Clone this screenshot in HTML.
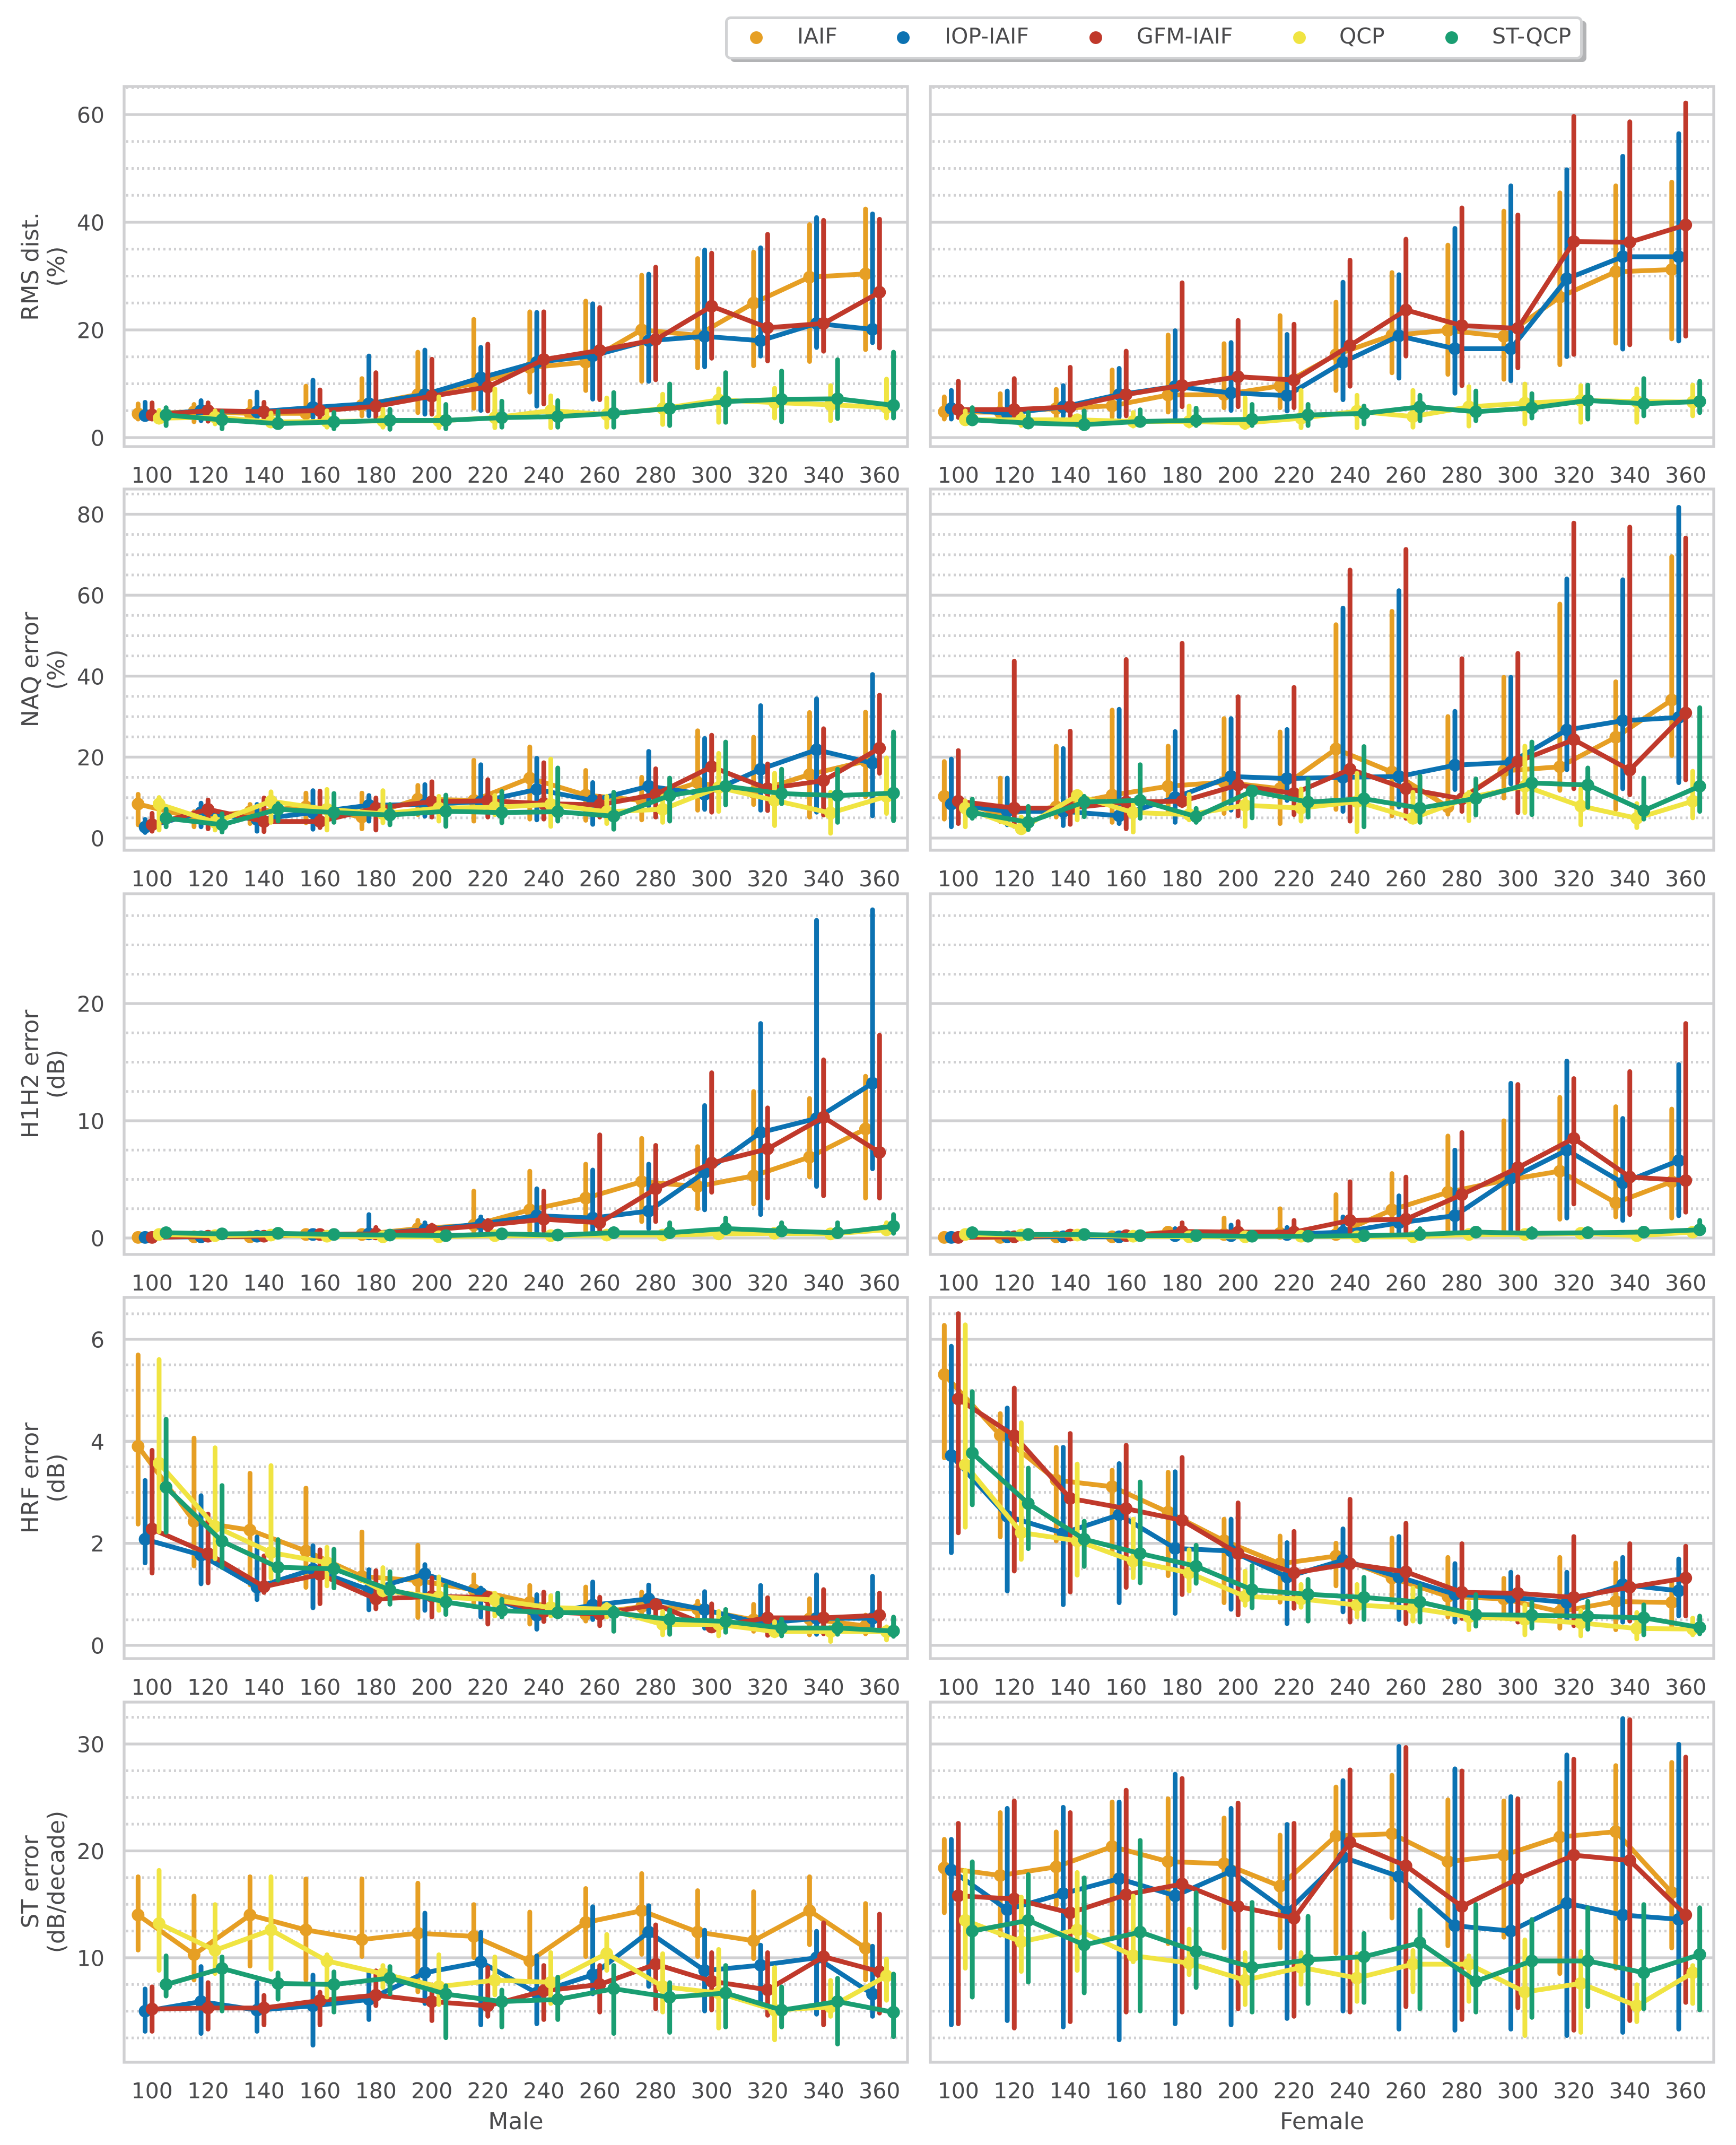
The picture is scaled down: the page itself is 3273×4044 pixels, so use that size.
<!DOCTYPE html>
<html lang="en">
<head>
<meta charset="utf-8">
<title>Glottal inverse filtering errors by F0</title>
<style>
html,body{margin:0;padding:0;background:#fff;}
svg{display:block;font-family:"DejaVu Sans","Liberation Sans",sans-serif;}
text{fill:#4a4a4c;}
</style>
</head>
<body>
<svg id="chart" xmlns="http://www.w3.org/2000/svg" width="3273" height="4044" viewBox="0 0 3273 4044">
  <rect x="0" y="0" width="3273" height="4044" fill="#ffffff"/>
  <g id="panels"></g>
  <g>
    <rect x="1377" y="39" width="1614" height="78" rx="8" fill="#b2b3b5"/>
    <rect x="1369.5" y="33.5" width="1612" height="76" rx="8" fill="#ffffff" stroke="#d1d2d4" stroke-width="5"/>
    <circle cx="1426" cy="71" r="12" fill="#e69f24"/>
    <text x="1503" y="82" font-size="41">IAIF</text>
    <circle cx="1703" cy="71" r="12" fill="#0c72b2"/>
    <text x="1781" y="82" font-size="41">IOP-IAIF</text>
    <circle cx="2066" cy="71" r="12" fill="#c0392b"/>
    <text x="2143" y="82" font-size="41">GFM-IAIF</text>
    <circle cx="2450" cy="71" r="12" fill="#f0e442"/>
    <text x="2525" y="82" font-size="41">QCP</text>
    <circle cx="2737" cy="71" r="12" fill="#1a9e72"/>
    <text x="2813" y="82" font-size="41">ST-QCP</text>
  </g>
  <g font-size="44" text-anchor="middle">
    <text transform="translate(72 502.5) rotate(-90)">RMS dist.</text>
    <text transform="translate(121 502.5) rotate(-90)">(%)</text>
    <text transform="translate(72 1262.5) rotate(-90)">NAQ error</text>
    <text transform="translate(121 1262.5) rotate(-90)">(%)</text>
    <text transform="translate(72 2025) rotate(-90)">H1H2 error</text>
    <text transform="translate(121 2025) rotate(-90)">(dB)</text>
    <text transform="translate(72 2786.5) rotate(-90)">HRF error</text>
    <text transform="translate(121 2786.5) rotate(-90)">(dB)</text>
    <text transform="translate(72 3548) rotate(-90)">ST error</text>
    <text transform="translate(121 3548) rotate(-90)">(dB/decade)</text>
  </g>
  <text x="972.5" y="4014" font-size="44" text-anchor="middle">Male</text>
  <text x="2492.5" y="4014" font-size="44" text-anchor="middle">Female</text>
</svg>
<script>
const categories = [100,120,140,160,180,200,220,240,260,280,300,320,340,360];
const seriesNames = ['iaif','iop-iaif','gfm-iaif','qcp','st-qcp'];
const seriesColors = ['#e69f24','#0c72b2','#c0392b','#f0e442','#1a9e72'];

const rmsTicks = [0,20,40,60];
const rmsMinorTicks = [5,10,15,25,30,35,45,50,55,65];
const naqTicks = [0,20,40,60,80];
const naqMinorTicks = [5,10,15,25,30,35,45,50,55,65,70,75,85];
const h1h2Ticks = [0,10,20];
const h1h2MinorTicks = [2.5,5,7.5,12.5,15,17.5,22.5,25,27.5];
const hrfTicks = [0,2,4,6];
const hrfMinorTicks = [0.5,1,1.5,2.5,3,3.5,4.5,5,5.5,6.5];
const stTicks = [10,20,30];
const stMinorTicks = [2.5,5,7.5,12.5,15,17.5,22.5,25,27.5,32.5];

/* RMS dist. male */
const rmsMaleIaifMean = [4.4,4.8,4.5,4.5,6,8,10,13,14,20,19,25,29.8,30.4];
const rmsMaleIaifLow = [3,2.5,3.6,3.3,3.6,4.2,5,8,8.3,10,12.5,12.9,13.7,15.9];
const rmsMaleIaifHigh = [6.7,6.6,7.2,10,11.4,16.3,22.4,23.8,25.8,30.6,33.7,34.9,40,42.9];
const rmsMaleIopMean = [4.1,5,4.8,5.6,6.3,8,11.1,14,15.2,18,18.8,18,21.2,20.1];
const rmsMaleIopLow = [3,2.7,2.4,3.3,3.6,3.9,4.6,5.4,6.7,10,12.7,14.7,16.3,17.2];
const rmsMaleIopHigh = [7,7.3,8.9,11.1,15.6,16.7,17.2,23.7,25.3,30.8,35.3,35.7,41.3,42];
const rmsMaleGfmMean = [4.2,5,4.8,5,5.8,7.7,9.4,14.5,16.2,18.2,24.4,20.4,21.2,27];
const rmsMaleGfmLow = [3,2.6,2.7,3,3.3,3.9,4.5,5.8,6.6,10.3,14.3,13.8,15.6,16.2];
const rmsMaleGfmHigh = [6.9,6.9,7,9.3,12.5,15,17.8,23.8,24.6,32.1,34.7,38.2,40.8,41];
const rmsMaleQcpMean = [3.6,3.8,2.9,3,3.1,3.1,3.7,5,4.3,5.4,7,6.5,6.1,5.6];
const rmsMaleQcpLow = [2.4,2.1,1.8,1.5,1.5,1.4,1.4,1.4,1.5,2,2.4,3.2,2.7,3.2];
const rmsMaleQcpHigh = [5.5,5.4,5,5.4,5.7,8,9.5,8.2,7.8,8.5,9.5,9.6,10.1,11.3];
const rmsMaleStMean = [4.2,3.3,2.6,2.9,3.2,3.2,3.7,3.9,4.5,5.4,6.7,7.1,7.2,6];
const rmsMaleStLow = [1.8,1.2,1.5,1.2,1.1,1.2,1.5,1.5,1.5,1.8,2.4,2.5,3.1,3.2];
const rmsMaleStHigh = [6,5.3,5.3,5.1,5.7,6.6,7.2,7.3,8.8,10.4,12.5,12.8,14.9,16.3];

/* RMS dist. female */
const rmsFemaleIaifMean = [4.8,4.7,5.4,5.9,7.9,8,9.6,15.4,19,19.9,18.8,26.1,30.8,31.2];
const rmsFemaleIaifLow = [3,3.6,3.4,3.4,4.3,5.1,5.1,8.3,11.6,11.3,10.4,13.1,17.1,17.9];
const rmsFemaleIaifHigh = [8,8.6,9.4,13,19.5,17.9,23.1,25.6,31.1,36.2,42.5,45.9,47.2,47.9];
const rmsFemaleIopMean = [5.4,4.5,5.7,8,9.5,8.3,7.8,14,18.9,16.5,16.5,29.5,33.6,33.6];
const rmsFemaleIopLow = [3,3.9,3.6,3.4,3.3,4.6,4.5,6.6,10.6,7.8,10.1,14.6,16,17.5];
const rmsFemaleIopHigh = [9.2,9.1,10.1,13.3,20.3,18.1,19.6,29.3,30.7,39.3,47.2,50.2,52.7,56.9];
const rmsFemaleGfmMean = [5.2,5.2,5.7,8,9.7,11.3,10.7,17.1,23.7,20.8,20.3,36.4,36.3,39.5];
const rmsFemaleGfmLow = [3.3,3.6,3.6,3.6,5.3,5.3,5.1,9.1,14.7,9.2,12.5,15,16.8,18.4];
const rmsFemaleGfmHigh = [10.9,11.4,13.5,16.5,29.2,22.2,21.5,33.4,37.3,43.1,41.8,60.1,59.1,62.6];
const rmsFemaleQcpMean = [3.3,3.3,3.3,3,3,2.7,3.6,4.9,3.9,5.7,6.4,6.9,6.7,6.6];
const rmsFemaleQcpLow = [2.4,1.8,1.8,1.7,1.7,1.4,1.4,1.4,1.5,1.7,2.1,2.4,2.4,3.6];
const rmsFemaleQcpHigh = [5.4,4.8,4.5,5.1,6.3,7.8,9.2,8.3,9.2,9.9,10.4,10.1,9.5,10.2];
const rmsFemaleStMean = [3.3,2.7,2.4,3,3.2,3.4,4.2,4.5,5.7,4.8,5.5,6.9,6.3,6.7];
const rmsFemaleStLow = [2.1,1.8,1.5,1.8,1.8,1.8,1.8,2.1,2.7,2.7,3.2,3,3.6,4.2];
const rmsFemaleStHigh = [6,5.1,5.4,5.6,5.9,6.6,6.6,6.3,8.3,9.1,8.6,10.2,11.4,10.9];

/* NAQ error male */
const naqMaleIaifMean = [8.4,5,6.5,7.7,5.2,9.6,9.3,14.8,10.6,9.3,13.7,11.3,15.7,19];
const naqMaleIaifLow = [2.7,2.2,3,3.2,1.7,5.2,3.6,4.1,3.8,3.9,6.3,7.7,4.6,9.6];
const naqMaleIaifHigh = [11.4,7.1,8.9,11.7,11.7,13.6,19.8,23.1,17.3,15.6,27.1,25.5,31.6,31.7];
const naqMaleIopMean = [2.7,6.3,4.6,6.3,8.1,8.3,9,12,9.3,12.8,10.8,17,21.8,18.5];
const naqMaleIopLow = [0.8,2.2,1.1,1.6,3.6,4.8,6,3.9,2.8,7.4,6.5,6.3,5.8,4.9];
const naqMaleIopHigh = [5.2,9.2,8.9,12.3,11.1,13.8,18.7,20.3,14.3,22,25.2,33.3,35,41];
const naqMaleGfmMean = [3.3,7.1,4.1,4.1,7.4,9,9.2,8.5,8.2,10.8,17.6,12.2,14.2,22.2];
const naqMaleGfmLow = [1.1,1.7,1,2,1.4,4.6,4.6,4.1,4.6,4.6,5.8,6.2,5.1,15.4];
const naqMaleGfmHigh = [6.7,10,10.5,12.2,10.5,14.5,15,19.2,10.9,17.7,26,18.9,27.6,35.9];
const naqMaleQcpMean = [8.4,3.9,9.1,7.1,6,7.4,7.6,8.3,6.5,7.1,12.5,9.3,6.2,10.3];
const naqMaleQcpLow = [1.4,1.4,3.3,1.4,3.2,3.6,5.2,2.3,3,3.3,6,2.5,0.6,5.5];
const naqMaleQcpHigh = [10.6,6,12,12.6,12.3,10.9,11.1,20.1,10.9,10.9,21.5,16.6,11.9,20.4];
const naqMaleStMean = [4.9,3.3,7.1,6.3,5.7,6.6,6.3,6.5,5.4,10.5,12.8,11,10.5,11.1];
const naqMaleStLow = [2.2,0.9,3.6,3.3,2.7,2.3,3.2,3.6,1.6,3.6,7.6,7.9,3.3,3.7];
const naqMaleStHigh = [7.7,6.6,9.1,11.6,8.9,11.2,12.1,17.9,11.9,15.4,24.3,17.6,17.6,26.8];

/* NAQ error female */
const naqFemaleIaifMean = [10.3,5.8,7.7,10.6,12.8,13.8,12.2,22,16.3,7.7,16.6,17.6,24.9,34.1];
const naqFemaleIaifLow = [4.1,3.5,4.6,3.3,5.8,5.5,3,6.5,4.9,5.3,9.3,11.2,6.5,19.8];
const naqFemaleIaifHigh = [19.5,15.4,23.3,32.2,23.3,30.1,26.8,53.3,56.6,30.6,40.3,58.4,39.2,70.1];
const naqFemaleIopMean = [8.4,6.6,6.6,5.5,10,15.2,14.7,15,15.2,18,18.7,26.7,29,29.8];
const naqFemaleIopLow = [2.2,2.7,2.5,3,3.3,6.3,8.7,6,7.1,11.4,12.8,16.3,11.6,13.1];
const naqFemaleIopHigh = [20.1,15.4,22.7,32.4,26.9,30.1,27.4,57.4,61.7,31.9,40.3,64.6,64.4,82.3];
const naqFemaleGfmMean = [9.1,7.4,7.4,8.9,9.1,13.1,11,17,12.2,9.7,18.9,24.3,16.8,30.9];
const naqFemaleGfmLow = [3,2.3,2.8,1.7,7.4,4.9,5.2,3.6,4.3,6,5.7,11.6,10.1,13.8];
const naqFemaleGfmHigh = [22.2,44.3,27,44.7,48.7,35.5,37.8,66.8,71.9,44.9,46.2,78.4,77.4,74.7];
const naqFemaleQcpMean = [7.4,2.3,10.5,6.3,5.8,8.1,7.4,9,4.9,10,12.8,7.9,4.9,9.1];
const naqFemaleQcpLow = [2.2,1.4,3.9,0.9,3.9,2.3,3.6,1,3.3,3.7,5.7,2.7,2,4.4];
const naqFemaleQcpHigh = [9.8,5.8,11.6,9,11.4,10.9,12.7,16.6,11.9,11.9,23.3,12.8,9.1,17.1];
const naqFemaleStMean = [6.3,3.9,8.9,9.3,5.3,11.6,8.9,9.7,7.4,9.8,13.6,13.1,6.8,12.8];
const naqFemaleStLow = [4.3,1.5,4.7,4.3,3.3,4.4,4.6,2.2,3.3,5.1,5.2,7,4.1,6];
const naqFemaleStHigh = [10.2,8.4,10.9,18.7,7.9,12.5,15.2,23.2,15.9,15.2,24.3,17.9,15.4,32.8];

/* H1H2 error male */
const h1h2MaleIaifMean = [0.05,0.1,0.1,0.3,0.3,0.8,1.1,2.4,3.4,4.8,4.4,5.3,6.9,9.3];
const h1h2MaleIaifLow = [0,0,0,0.1,0.1,0.3,0.3,0.4,0.4,1.2,2.3,2.7,5,3.2];
const h1h2MaleIaifHigh = [0.5,0.5,0.6,0.7,0.7,1.7,4.2,5.9,6.5,8.7,8,12.7,12.1,14];
const h1h2MaleIopMean = [0.05,0.1,0.15,0.3,0.35,0.7,1.2,1.9,1.7,2.3,5.6,9,10.2,13.2];
const h1h2MaleIopLow = [0,0,0,0.1,0.1,0.2,0.3,0.3,0.4,0.6,2.2,1.8,4.2,5.7];
const h1h2MaleIopHigh = [0.4,0.5,0.6,0.7,2.2,1.5,2,4.4,6,6.5,11.5,18.5,27.3,28.2];
const h1h2MaleGfmMean = [0.05,0.15,0.15,0.3,0.35,0.7,1.1,1.6,1.3,4.2,6.4,7.6,10.3,7.3];
const h1h2MaleGfmLow = [0,0,0,0.1,0.1,0.3,0.3,0.4,0.3,1.2,3.7,3.2,3.4,3.2];
const h1h2MaleGfmHigh = [0.3,0.5,0.5,0.7,1.1,1.3,1.7,4.2,9,8.1,14.3,11.3,15.4,17.5];
const h1h2MaleQcpMean = [0.3,0.2,0.25,0.15,0.1,0.1,0.2,0.2,0.25,0.25,0.35,0.4,0.35,0.7];
const h1h2MaleQcpLow = [0.1,0.05,0.05,0.05,0.05,0.05,0.05,0.05,0.05,0.05,0.1,0.1,0.1,0.2];
const h1h2MaleQcpHigh = [0.6,0.6,0.6,0.4,0.4,0.4,0.5,0.5,0.6,0.6,0.9,0.8,0.8,1.5];
const h1h2MaleStMean = [0.45,0.35,0.4,0.3,0.25,0.2,0.35,0.25,0.45,0.45,0.8,0.6,0.45,1];
const h1h2MaleStLow = [0.2,0.1,0.1,0.1,0.1,0.05,0.1,0.05,0.1,0.1,0.3,0.2,0.1,0.2];
const h1h2MaleStHigh = [0.8,0.6,0.7,0.5,0.5,0.5,0.7,0.6,1,1.5,1.9,1.5,1.5,2.2];

/* H1H2 error female */
const h1h2FemaleIaifMean = [0.05,0.05,0.1,0.1,0.5,0.3,0.4,0.3,2.4,3.9,4.9,5.7,3,4.8];
const h1h2FemaleIaifLow = [0,0,0,0,0,0.1,0.1,0.1,0.2,0.4,0.4,1.4,1.6,1.5];
const h1h2FemaleIaifHigh = [0.3,0.3,0.3,0.4,1,1.9,2.7,3.9,5.7,8.9,10.2,12.2,11.4,11.2];
const h1h2FemaleIopMean = [0.05,0.1,0.1,0.1,0.2,0.2,0.3,0.5,1.3,1.9,5.1,7.5,4.7,6.6];
const h1h2FemaleIopLow = [0,0,0,0,0,0,0.1,0.1,0.2,0.4,0.4,1.5,1.3,1.7];
const h1h2FemaleIopHigh = [0.3,0.3,0.3,0.4,1,1.3,1.1,2,3.8,7.7,13.4,15.3,10.4,15];
const h1h2FemaleGfmMean = [0.05,0.1,0.25,0.2,0.55,0.5,0.5,1.5,1.6,3.7,6,8.5,5.2,4.9];
const h1h2FemaleGfmLow = [0,0,0,0.05,0.1,0.1,0.1,0.2,0.3,0.3,0.5,2.7,1.8,2];
const h1h2FemaleGfmHigh = [0.3,0.3,0.4,0.5,1.5,1.6,1.7,5,5.4,9.2,13.3,13.8,14.4,18.5];
const h1h2FemaleQcpMean = [0.3,0.25,0.25,0.15,0.1,0.1,0.15,0.1,0.1,0.3,0.3,0.4,0.2,0.5];
const h1h2FemaleQcpLow = [0.1,0.05,0.05,0.05,0.05,0.05,0.05,0.05,0.05,0.05,0.05,0.1,0.05,0.1];
const h1h2FemaleQcpHigh = [0.5,0.5,0.5,0.4,0.4,0.3,0.4,0.3,0.4,0.7,0.6,0.8,0.7,1];
const h1h2FemaleStMean = [0.45,0.3,0.3,0.2,0.2,0.15,0.15,0.2,0.3,0.5,0.4,0.45,0.5,0.7];
const h1h2FemaleStLow = [0.2,0.1,0.1,0.05,0.05,0.05,0.05,0.05,0.1,0.1,0.1,0.15,0.1,0.2];
const h1h2FemaleStHigh = [0.7,0.5,0.5,0.4,0.5,0.4,0.4,0.6,1,1,1,1,0.9,1.7];

/* HRF error male */
const hrfMaleIaifMean = [3.9,2.43,2.26,1.85,1.35,1.27,1.09,0.84,0.61,0.76,0.71,0.5,0.52,0.38];
const hrfMaleIaifLow = [2.33,1.51,1.14,1.09,1.24,0.5,0.79,0.37,0.43,0.59,0.37,0.23,0.16,0.18];
const hrfMaleIaifHigh = [5.74,4.11,3.42,3.13,2.27,2.01,1.43,1.22,1.19,1.09,0.91,0.85,0.96,0.64];
const hrfMaleIopMean = [2.08,1.77,1.14,1.49,1.09,1.4,1.02,0.59,0.79,0.91,0.7,0.43,0.53,0.53];
const hrfMaleIopLow = [1.57,1.16,0.85,0.69,0.65,0.64,0.51,0.27,0.46,0.59,0.29,0.26,0.17,0.33];
const hrfMaleIopHigh = [3.28,2.98,2.17,2,1.53,1.63,1.17,1.04,1.29,1.23,1.1,1.22,1.43,1.4];
const hrfMaleGfmMean = [2.28,1.8,1.15,1.39,0.91,0.96,0.94,0.66,0.61,0.8,0.36,0.54,0.54,0.59];
const hrfMaleGfmLow = [1.37,1.18,0.99,0.77,0.67,0.51,0.37,0.42,0.34,0.56,0.27,0.15,0.18,0.23];
const hrfMaleGfmHigh = [3.87,2.62,1.8,1.92,1.51,1.37,0.99,1.09,0.99,0.89,0.86,0.98,1.14,1.07];
const hrfMaleQcpMean = [3.57,2.33,1.82,1.62,1.07,0.95,0.89,0.74,0.71,0.41,0.41,0.27,0.27,0.27];
const hrfMaleQcpLow = [2.18,1.65,1.27,1.12,0.94,0.64,0.53,0.53,0.51,0.16,0.14,0.14,0.03,0.06];
const hrfMaleQcpHigh = [5.65,3.92,3.57,1.97,1.57,1.39,1.07,1.02,0.85,0.71,0.71,0.51,0.41,0.41];
const hrfMaleStMean = [3.1,2.04,1.53,1.5,1.09,0.85,0.68,0.64,0.64,0.51,0.47,0.34,0.34,0.28];
const hrfMaleStLow = [2.17,1.48,1.23,1.08,0.76,0.56,0.51,0.51,0.23,0.17,0.21,0.14,0.17,0.13];
const hrfMaleStHigh = [4.48,3.18,2.12,1.93,1.49,1.22,0.95,1.07,0.79,0.74,0.75,0.56,0.54,0.6];

/* HRF error female */
const hrfFemaleIaifMean = [5.31,4.12,3.24,3.11,2.61,2.05,1.6,1.75,1.32,0.96,0.91,0.66,0.86,0.84];
const hrfFemaleIaifLow = [3.63,2.08,2,1.75,1.32,0.79,0.8,1.12,0.71,0.51,0.51,0.29,0.26,0.33];
const hrfFemaleIaifHigh = [6.32,4.59,3.93,3.48,3.44,2.52,2.19,2.05,2.15,1.77,1.36,1.77,1.66,1.32];
const hrfFemaleIopMean = [3.72,2.53,2.2,2.56,1.9,1.85,1.34,1.67,1.34,1,0.94,0.84,1.19,1.07];
const hrfFemaleIopLow = [1.77,1.02,0.75,0.79,0.58,0.66,0.38,0.61,0.46,0.41,0.47,0.43,0.41,0.53];
const hrfFemaleIopHigh = [5.91,4.7,3.93,3.61,3.45,2.52,2.06,2.33,2.18,1.65,1.48,1.48,1.77,1.74];
const hrfFemaleGfmMean = [4.83,4.11,2.88,2.68,2.45,1.8,1.42,1.6,1.44,1.04,1.02,0.94,1.14,1.32];
const hrfFemaleGfmLow = [2.16,1.41,1,1.09,0.95,0.55,0.68,0.41,0.38,0.48,0.41,0.34,0.43,0.53];
const hrfFemaleGfmHigh = [6.55,5.09,4.2,3.97,3.73,2.84,2.28,2.91,2.44,2.04,1.39,2.18,2.04,1.99];
const hrfFemaleQcpMean = [3.54,2.21,2.05,1.65,1.42,0.96,0.91,0.79,0.73,0.56,0.51,0.44,0.33,0.32];
const hrfFemaleQcpLow = [2.27,1.64,1.33,1.28,1.02,0.74,0.7,0.51,0.43,0.26,0.16,0.14,0.08,0.16];
const hrfFemaleQcpHigh = [6.33,4.41,3.6,2.52,1.92,1.5,1.24,1.24,1.17,0.89,0.84,0.73,0.69,0.58];
const hrfFemaleStMean = [3.77,2.78,2.08,1.8,1.55,1.09,1,0.94,0.85,0.6,0.59,0.57,0.54,0.35];
const hrfFemaleStLow = [2.71,1.85,1.5,1.18,1.17,0.69,0.43,0.46,0.41,0.33,0.29,0.27,0.16,0.18];
const hrfFemaleStHigh = [5.02,3.52,2.48,3.25,2.01,1.61,1.34,1.38,1.22,1.04,0.89,0.91,0.84,0.62];

/* ST error male */
const stMaleIaifMean = [14,10.3,14,12.6,11.7,12.3,12,9.7,13.3,14.4,12.4,11.6,14.4,10.9];
const stMaleIaifLow = [10.5,7.7,9,7.7,9.9,6.6,9.8,7.7,9.9,10.1,9.9,9.7,11,7.7];
const stMaleIaifHigh = [17.8,16,17.8,17.6,17.6,17.2,15.2,14.5,16.7,18.1,16.5,16.4,17.8,15.3];
const stMaleIopMean = [5,5.9,5.1,5.5,6.1,8.6,9.6,6.7,8.4,12.4,8.8,9.3,10,6.6];
const stMaleIopLow = [2.9,2.7,2.9,1.6,4,5.5,3.5,3.6,6.4,7.1,4.8,5.7,4.5,4.3];
const stMaleIopHigh = [7.3,9.4,7.9,8.6,9,14.4,12.6,10.4,15,15.1,12.8,11.4,12.7,11.3];
const stMaleGfmMean = [5.2,5.3,5.3,6,6.5,5.9,5.5,6.9,7.5,9.4,7.8,7,10.1,8.7];
const stMaleGfmLow = [2.9,3.1,3.5,3.5,5.3,3.9,4.3,4,4.7,5,4.9,4.4,3.5,4.6];
const stMaleGfmHigh = [7.5,7.9,6.7,7,9,7.7,9.3,9.5,9.5,13.3,10.7,10.7,13.5,14.3];
const stMaleQcpMean = [13.2,10.7,12.6,9.7,8.5,7.3,7.9,7.7,10.4,7.3,6.7,5.1,5.4,8.3];
const stMaleQcpLow = [8.6,8.3,8.7,6.1,7,5.4,6.3,5.5,8.6,4.7,3.2,2.1,4.3,5.8];
const stMaleQcpHigh = [18.4,15.2,17.8,10.5,9.5,10.5,10.3,10.7,12.4,10.6,11,9.3,8.1,10.1];
const stMaleStMean = [7.5,9,7.6,7.5,8.1,6.6,5.9,6.1,7.1,6.3,6.7,5.1,5.9,4.9];
const stMaleStLow = [6.2,4.8,5.9,4.7,6.4,2.3,3.3,4,2.7,2.8,3.3,3.3,1.7,2.4];
const stMaleStHigh = [10.4,10.3,8.8,8.9,9.4,7.6,7.2,8.4,9.5,7.9,9.5,7.5,8.3,8.7];

/* ST error female */
const stFemaleIaifMean = [18.4,17.7,18.5,20.4,19,18.8,16.7,21.4,21.6,19,19.6,21.3,21.8,16.1];
const stFemaleIaifLow = [14,11.9,14.7,11.9,11.1,10.7,10.7,10.2,13.5,10.9,11.7,8.3,8.8,10.7];
const stFemaleIaifHigh = [21.3,23.8,22,24.8,25.1,23.3,21.7,26.2,27.3,25,24.9,26.6,28.2,28.5];
const stFemaleIopMean = [18.2,14.5,16,17.4,15.8,18.1,14.3,19.4,17.6,13,12.5,15.1,14,13.6];
const stFemaleIopLow = [3.5,3.9,3.3,2.1,3.6,3.5,4.1,4.8,3.1,3,3.1,2.5,2.8,3.1];
const stFemaleIopHigh = [21.3,24.2,24.3,24.8,27.4,24.2,22.7,26.8,30,27.9,25.3,29.2,32.6,30.2];
const stFemaleGfmMean = [15.8,15.5,14.2,15.9,16.9,14.8,13.7,20.8,18.6,14.8,17.4,19.6,19.1,14];
const stFemaleGfmLow = [3.6,3.2,3.8,4.7,4.7,5,4.3,4.7,5.2,4,5.1,3,3.9,5.6];
const stFemaleGfmHigh = [22.8,24.9,23.8,25.9,27,24.7,22.8,27.8,29.9,27.7,25.1,28.8,32.5,29];
const stFemaleQcpMean = [13.5,11.5,12.6,10.2,9.5,7.9,9.1,8.1,9.4,9.4,6.8,7.6,5.5,8.6];
const stFemaleQcpLow = [8.8,8.5,8.6,9.4,8.2,5.4,7.3,5.7,6.6,5.7,2.5,2.8,3.8,5.5];
const stFemaleQcpHigh = [18.4,15.9,18.2,16,12.9,10.7,10.7,10.6,10.9,10.4,11.9,10.8,7.7,9.5];
const stFemaleStMean = [12.5,13.5,11.2,12.4,10.6,9.1,9.8,10.1,11.4,7.8,9.7,9.7,8.6,10.3];
const stFemaleStLow = [6.1,7.5,6.5,4.8,7,4.7,5.5,5.6,5,4.7,4.2,5.2,5,4.9];
const stFemaleStHigh = [19.2,18,17.7,21.2,16.3,15.4,14.1,12.5,14.7,15.2,13.8,14.9,15.2,14.9];

const rmsMaleSeries = [[rmsMaleIaifMean,rmsMaleIaifLow,rmsMaleIaifHigh],[rmsMaleIopMean,rmsMaleIopLow,rmsMaleIopHigh],[rmsMaleGfmMean,rmsMaleGfmLow,rmsMaleGfmHigh],[rmsMaleQcpMean,rmsMaleQcpLow,rmsMaleQcpHigh],[rmsMaleStMean,rmsMaleStLow,rmsMaleStHigh]];
const rmsFemaleSeries = [[rmsFemaleIaifMean,rmsFemaleIaifLow,rmsFemaleIaifHigh],[rmsFemaleIopMean,rmsFemaleIopLow,rmsFemaleIopHigh],[rmsFemaleGfmMean,rmsFemaleGfmLow,rmsFemaleGfmHigh],[rmsFemaleQcpMean,rmsFemaleQcpLow,rmsFemaleQcpHigh],[rmsFemaleStMean,rmsFemaleStLow,rmsFemaleStHigh]];
const naqMaleSeries = [[naqMaleIaifMean,naqMaleIaifLow,naqMaleIaifHigh],[naqMaleIopMean,naqMaleIopLow,naqMaleIopHigh],[naqMaleGfmMean,naqMaleGfmLow,naqMaleGfmHigh],[naqMaleQcpMean,naqMaleQcpLow,naqMaleQcpHigh],[naqMaleStMean,naqMaleStLow,naqMaleStHigh]];
const naqFemaleSeries = [[naqFemaleIaifMean,naqFemaleIaifLow,naqFemaleIaifHigh],[naqFemaleIopMean,naqFemaleIopLow,naqFemaleIopHigh],[naqFemaleGfmMean,naqFemaleGfmLow,naqFemaleGfmHigh],[naqFemaleQcpMean,naqFemaleQcpLow,naqFemaleQcpHigh],[naqFemaleStMean,naqFemaleStLow,naqFemaleStHigh]];
const h1h2MaleSeries = [[h1h2MaleIaifMean,h1h2MaleIaifLow,h1h2MaleIaifHigh],[h1h2MaleIopMean,h1h2MaleIopLow,h1h2MaleIopHigh],[h1h2MaleGfmMean,h1h2MaleGfmLow,h1h2MaleGfmHigh],[h1h2MaleQcpMean,h1h2MaleQcpLow,h1h2MaleQcpHigh],[h1h2MaleStMean,h1h2MaleStLow,h1h2MaleStHigh]];
const h1h2FemaleSeries = [[h1h2FemaleIaifMean,h1h2FemaleIaifLow,h1h2FemaleIaifHigh],[h1h2FemaleIopMean,h1h2FemaleIopLow,h1h2FemaleIopHigh],[h1h2FemaleGfmMean,h1h2FemaleGfmLow,h1h2FemaleGfmHigh],[h1h2FemaleQcpMean,h1h2FemaleQcpLow,h1h2FemaleQcpHigh],[h1h2FemaleStMean,h1h2FemaleStLow,h1h2FemaleStHigh]];
const hrfMaleSeries = [[hrfMaleIaifMean,hrfMaleIaifLow,hrfMaleIaifHigh],[hrfMaleIopMean,hrfMaleIopLow,hrfMaleIopHigh],[hrfMaleGfmMean,hrfMaleGfmLow,hrfMaleGfmHigh],[hrfMaleQcpMean,hrfMaleQcpLow,hrfMaleQcpHigh],[hrfMaleStMean,hrfMaleStLow,hrfMaleStHigh]];
const hrfFemaleSeries = [[hrfFemaleIaifMean,hrfFemaleIaifLow,hrfFemaleIaifHigh],[hrfFemaleIopMean,hrfFemaleIopLow,hrfFemaleIopHigh],[hrfFemaleGfmMean,hrfFemaleGfmLow,hrfFemaleGfmHigh],[hrfFemaleQcpMean,hrfFemaleQcpLow,hrfFemaleQcpHigh],[hrfFemaleStMean,hrfFemaleStLow,hrfFemaleStHigh]];
const stMaleSeries = [[stMaleIaifMean,stMaleIaifLow,stMaleIaifHigh],[stMaleIopMean,stMaleIopLow,stMaleIopHigh],[stMaleGfmMean,stMaleGfmLow,stMaleGfmHigh],[stMaleQcpMean,stMaleQcpLow,stMaleQcpHigh],[stMaleStMean,stMaleStLow,stMaleStHigh]];
const stFemaleSeries = [[stFemaleIaifMean,stFemaleIaifLow,stFemaleIaifHigh],[stFemaleIopMean,stFemaleIopLow,stFemaleIopHigh],[stFemaleGfmMean,stFemaleGfmLow,stFemaleGfmHigh],[stFemaleQcpMean,stFemaleQcpLow,stFemaleQcpHigh],[stFemaleStMean,stFemaleStLow,stFemaleStHigh]];

/* Layout: pixel calibration of each row's y axis, kept apart from the data. */
const rowLayouts = [
  {key:'rms', top:163, bottom:842, refA:[0,825], refB:[60,216], ticks:rmsTicks, minor:rmsMinorTicks, male:rmsMaleSeries, female:rmsFemaleSeries},
  {key:'naq', top:922, bottom:1603, refA:[0,1580], refB:[80,969.5], ticks:naqTicks, minor:naqMinorTicks, male:naqMaleSeries, female:naqFemaleSeries},
  {key:'h1h2', top:1685, bottom:2365, refA:[0,2334], refB:[20,1892], ticks:h1h2Ticks, minor:h1h2MinorTicks, male:h1h2MaleSeries, female:h1h2FemaleSeries},
  {key:'hrf', top:2446, bottom:3127, refA:[0,3102], refB:[6,2525], ticks:hrfTicks, minor:hrfMinorTicks, male:hrfMaleSeries, female:hrfFemaleSeries},
  {key:'st', top:3209, bottom:3888, refA:[10,3691], refB:[30,3288], ticks:stTicks, minor:stMinorTicks, male:stMaleSeries, female:stFemaleSeries}
];
const columnLayouts = [
  {key:'male', left:234, right:1711},
  {key:'female', left:1754, right:3231}
];
const GRID = '#d0d0d2';
const DODGE = 13.2;
const LINE_WIDTH = 9;
const CAP = 4.5;
const NS = 'http://www.w3.org/2000/svg';
const root = document.getElementById('panels');

function make(tag, attrs, parent){
  const el = document.createElementNS(NS, tag);
  for (const k in attrs) el.setAttribute(k, attrs[k]);
  parent.appendChild(el);
  return el;
}
function yAxis(row){
  const k = (row.refB[1]-row.refA[1])/(row.refB[0]-row.refA[0]);
  return v => row.refA[1] + (v-row.refA[0])*k;
}
function xAxis(col){
  const band = (col.right-col.left)/categories.length;
  return (i, s) => col.left + band*(i+0.5) + (s-2)*DODGE;
}

rowLayouts.forEach(row => {
  const y = yAxis(row);
  columnLayouts.forEach(col => {
    const x = xAxis(col);
    const g = make('g', {}, root);
    
    

    row.minor.forEach(v => {
      const l = make('line', {x1:col.left+4, x2:col.right-4, y1:y(v), y2:y(v), stroke:GRID, 'stroke-width':5, 'stroke-dasharray':'4 6'}, g);
      
      
    });
    row.ticks.forEach(v => {
      const l = make('line', {x1:col.left, x2:col.right, y1:y(v), y2:y(v), stroke:GRID, 'stroke-width':5.3}, g);
      
      
      if (col.key === 'male') {
        const t = make('text', {x:197, y:y(v)+15.5, 'font-size':41, 'text-anchor':'end'}, g);
        t.textContent = String(v);
        
        
      }
    });
    const frame = make('rect', {x:col.left, y:row.top, width:col.right-col.left, height:row.bottom-row.top, fill:'none', stroke:GRID, 'stroke-width':5.3}, g);
    
    

    categories.forEach((c, i) => {
      const t = make('text', {x:x(i,2), y:row.bottom+68, 'font-size':41, 'text-anchor':'middle'}, g);
      t.textContent = String(c);
      
      
    });

    row[col.key].forEach((triple, s) => {
      const color = seriesColors[s];
      const mean = triple[0], low = triple[1], high = triple[2];
      const sg = make('g', {}, g);
      
      
      const pts = mean.map((v, i) => x(i,s).toFixed(1) + ',' + y(v).toFixed(1)).join(' ');
      const pl = make('polyline', {points:pts, fill:'none', stroke:color, 'stroke-width':LINE_WIDTH, 'stroke-linejoin':'round', 'stroke-linecap':'round'}, sg);
      
      
      mean.forEach((v, i) => {
        let yLow = y(low[i]) - CAP, yHigh = y(high[i]) + CAP;
        if (yLow < yHigh) { yLow = y(v); yHigh = y(v); }
        const bar = make('line', {x1:x(i,s), x2:x(i,s), y1:yLow, y2:yHigh, stroke:color, 'stroke-width':LINE_WIDTH, 'stroke-linecap':'round'}, sg);
        
        
      });
      mean.forEach((v, i) => {
        const dot = make('circle', {cx:x(i,s), cy:y(v), r:12, fill:color}, sg);
        
        
      });
    });
  });
});
</script>
</body>
</html>
